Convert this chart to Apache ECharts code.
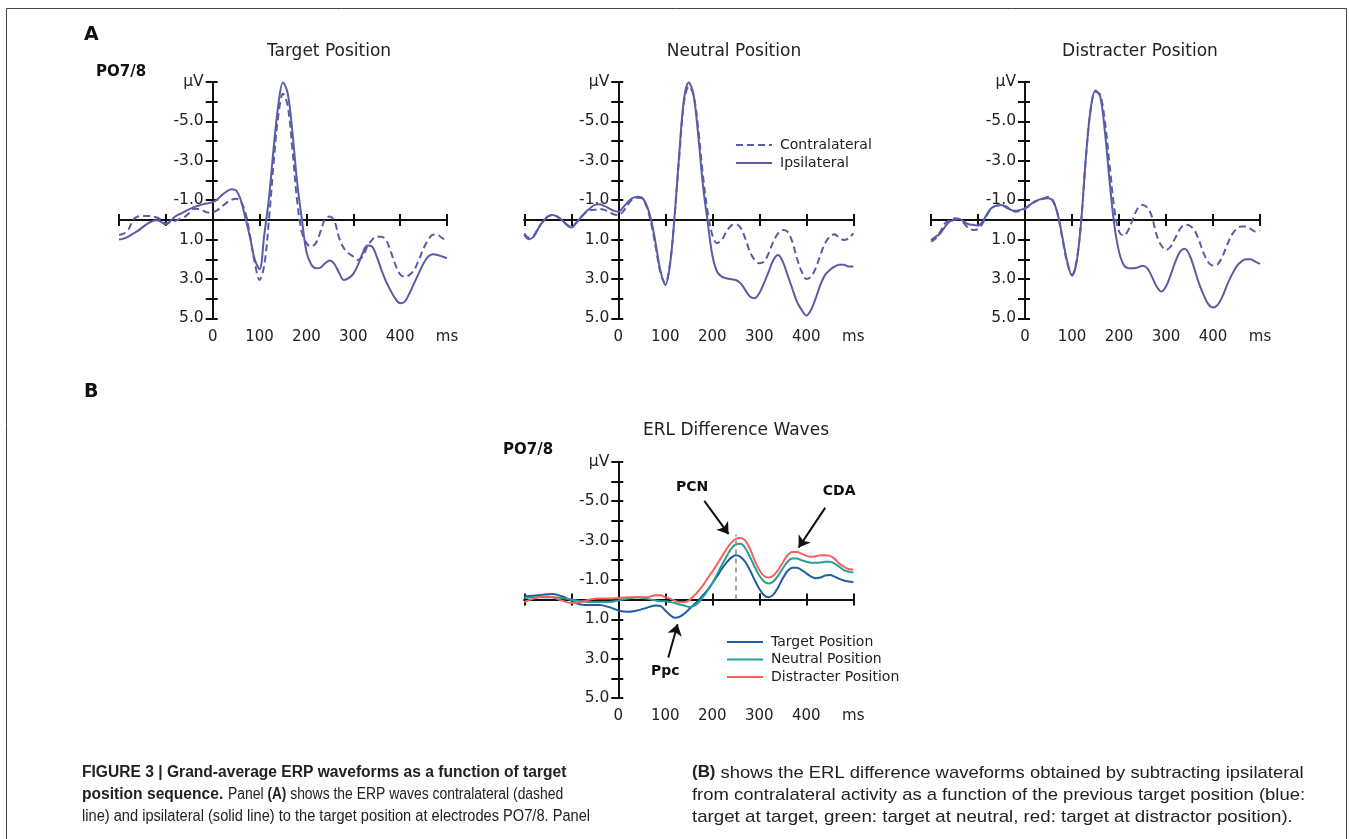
<!DOCTYPE html>
<html>
<head>
<meta charset="utf-8">
<script src="https://cdn.jsdelivr.net/npm/echarts@6/dist/echarts.min.js"></script>
<style>
html,body{margin:0;padding:0;background:#fff;}
#c{width:1349px;height:839px;}
</style>
</head>
<body>
<div id="c"></div>
<script>
// ---------- DATA ----------
const timeA = [
  -200,-190,-180,-170,-160,-150,-140,-130,-120,-110,
  -100,-90,-80,-70,-60,-50,-40,-30,-20,-10,
  0,10,20,30,40,50,60,70,80,90,
  100,110,120,130,140,150,160,170,180,190,
  200,210,220,230,240,250,260,270,280,290,
  300,310,320,330,340,350,360,370,380,390,
  400,410,420,430,440,450,460,470,480,490,
  500
];
const targetIpsi = [
  1.0,0.95,0.85,0.7,0.56,0.38,0.2,0.08,0.02,0.1,
  0.25,0.05,-0.17,-0.3,-0.42,-0.55,-0.64,-0.73,-0.8,-0.85,
  -0.9,-1.05,-1.27,-1.45,-1.56,-1.5,-1.0,-0.08,0.93,2.03,
  2.5,0.76,-1.1,-3.64,-5.84,-6.98,-6.43,-4.48,-1.95,-0.08,
  1.61,2.25,2.45,2.42,2.2,2.06,2.25,2.7,3.05,2.96,
  2.74,2.28,1.69,1.3,1.35,1.86,2.54,3.13,3.6,4.0,
  4.23,4.15,3.72,3.21,2.7,2.2,1.86,1.74,1.78,1.86,
  1.95
];
const targetContra = [
  0.76,0.7,0.5,0.0,-0.17,-0.2,-0.2,-0.18,-0.12,0.0,
  0.17,0.12,0.05,-0.05,-0.15,-0.35,-0.56,-0.55,-0.46,-0.38,
  -0.39,-0.5,-0.68,-0.88,-1.02,-1.07,-0.93,-0.35,0.85,2.2,
  3.05,2.3,0.0,-2.9,-5.3,-6.4,-5.8,-3.6,-1.0,0.6,
  1.18,1.35,1.18,0.6,-0.05,-0.17,0.08,0.93,1.44,1.69,
  1.86,2.03,1.86,1.35,1.02,0.85,0.85,1.02,1.61,2.28,
  2.76,2.88,2.79,2.54,2.03,1.44,1.02,0.76,0.76,0.93,
  1.02
];
const neutralIpsi = [
  0.76,0.98,0.85,0.42,0.08,-0.17,-0.25,-0.17,0.0,0.25,
  0.39,0.17,-0.12,-0.39,-0.59,-0.76,-0.8,-0.71,-0.59,-0.47,
  -0.42,-0.63,-0.9,-1.1,-1.17,-1.13,-0.76,0.0,1.27,2.62,
  3.3,2.28,-0.25,-3.47,-6.18,-6.98,-6.35,-4.31,-1.78,0.08,
  1.78,2.62,2.88,2.96,3.01,3.05,3.21,3.55,3.89,3.98,
  3.72,3.21,2.62,2.03,1.78,2.12,2.79,3.47,4.15,4.57,
  4.85,4.57,3.98,3.3,2.79,2.54,2.37,2.28,2.28,2.37,
  2.37
];
const neutralContra = [
  0.68,0.9,0.8,0.4,0.08,-0.17,-0.25,-0.17,0.0,0.22,
  0.35,0.15,-0.12,-0.35,-0.5,-0.51,-0.56,-0.51,-0.42,-0.29,
  -0.25,-0.42,-0.76,-1.05,-1.13,-1.1,-0.68,0.17,1.44,2.71,
  3.2,2.2,-0.25,-3.3,-6.0,-6.77,-6.35,-4.65,-2.28,-0.42,
  0.76,1.18,1.02,0.6,0.29,0.22,0.39,0.93,1.61,2.03,
  2.2,2.12,1.69,1.1,0.68,0.51,0.6,1.1,1.95,2.62,
  3.0,2.88,2.45,1.78,1.18,0.85,0.73,0.9,1.02,0.93,
  0.68
];
const distracterIpsi = [
  1.02,0.85,0.68,0.34,0.08,0.0,-0.05,0.08,0.22,0.25,
  0.29,0.08,-0.34,-0.63,-0.73,-0.76,-0.68,-0.51,-0.46,-0.51,
  -0.59,-0.76,-0.93,-1.03,-1.07,-1.1,-0.93,-0.25,0.93,2.12,
  2.83,2.12,-0.08,-3.3,-5.67,-6.57,-6.26,-4.48,-1.95,0.25,
  1.61,2.28,2.45,2.45,2.42,2.33,2.45,2.88,3.38,3.64,
  3.38,2.79,2.12,1.61,1.47,1.78,2.45,3.21,3.81,4.28,
  4.45,4.31,3.89,3.3,2.79,2.37,2.12,2.0,2.0,2.12,
  2.23
];
const distracterContra = [
  1.1,0.93,0.59,0.17,0.0,-0.08,-0.05,0.17,0.42,0.51,
  0.46,0.17,-0.29,-0.59,-0.73,-0.73,-0.63,-0.51,-0.42,-0.46,
  -0.56,-0.73,-0.9,-1.02,-1.1,-1.18,-0.96,-0.25,1.02,2.2,
  2.79,2.03,-0.08,-3.3,-5.67,-6.51,-6.35,-4.99,-2.79,-0.59,
  0.59,0.8,0.51,-0.08,-0.59,-0.76,-0.63,-0.17,0.76,1.3,
  1.52,1.35,0.9,0.46,0.25,0.29,0.51,1.02,1.69,2.15,
  2.32,2.25,1.86,1.27,0.76,0.46,0.34,0.34,0.46,0.59,
  0.56
];
const timeB = [
  -200,-180,-160,-140,-120,-100,-80,-60,-40,-20,0,20,40,60,
  80,90,100,110,120,130,140,150,160,170,180,190,
  200,210,220,230,240,250,260,270,280,290,
  300,310,320,330,340,350,360,370,380,390,
  400,410,420,430,440,450,460,470,480,490,500
];
const erlTarget = [
  -0.17,-0.2,-0.25,-0.28,-0.17,0.05,0.25,0.28,0.28,0.38,0.55,0.62,0.55,0.42,
  0.3,0.33,0.55,0.78,0.92,0.88,0.72,0.5,0.28,0.05,-0.22,-0.5,
  -0.83,-1.17,-1.55,-1.88,-2.12,-2.25,-2.17,-1.92,-1.5,-1.0,
  -0.55,-0.22,-0.12,-0.25,-0.62,-1.08,-1.45,-1.62,-1.62,-1.5,
  -1.33,-1.17,-1.08,-1.12,-1.22,-1.25,-1.17,-1.05,-0.97,-0.92,-0.88
];
const erlNeutral = [
  -0.08,-0.12,-0.12,-0.12,-0.08,0.0,0.08,0.12,0.12,0.12,0.05,-0.05,-0.12,-0.05,
  0.05,0.08,0.08,0.12,0.17,0.25,0.3,0.37,0.33,0.17,-0.12,-0.45,
  -0.83,-1.28,-1.75,-2.17,-2.58,-2.8,-2.83,-2.62,-2.17,-1.67,
  -1.22,-0.92,-0.82,-0.92,-1.22,-1.58,-1.92,-2.08,-2.08,-2.0,
  -1.92,-1.87,-1.87,-1.88,-1.92,-1.92,-1.83,-1.67,-1.5,-1.42,-1.38
];
const erlDistracter = [
  0.12,-0.05,-0.17,-0.12,0.05,0.17,0.12,0.0,-0.05,-0.05,-0.08,-0.12,-0.12,-0.12,
  -0.22,-0.22,-0.12,-0.05,0.05,0.12,0.12,0.05,-0.17,-0.42,-0.72,-1.08,
  -1.42,-1.78,-2.17,-2.55,-2.88,-3.08,-3.13,-3.0,-2.58,-2.0,
  -1.5,-1.2,-1.12,-1.22,-1.5,-1.88,-2.25,-2.42,-2.42,-2.33,
  -2.22,-2.17,-2.2,-2.25,-2.25,-2.22,-2.08,-1.83,-1.67,-1.55,-1.52
];
// annotation anchors in data units [ms, µV]
const pcnArrow = [[183, -5.01], [234.7, -3.32]];
const cdaArrow = [[440.4, -4.67], [383.6, -2.64]];
const ppcArrow = [[106.4, 2.94], [126.2, 1.25]];
const pcnLatency = [[250, 0], [250, -3.3]];
const annotationLabels = [
  { name: 'PCN', coord: [157, -5.69] },
  { name: 'CDA', coord: [470, -5.47] },
  { name: 'Ppc', coord: [100, 3.66] }
];
const panelTitles = ['Target Position', 'Neutral Position', 'Distracter Position', 'ERL Difference Waves'];
const yTickLabels = { '-7': 'µV', '-5': '-5.0', '-3': '-3.0', '-1': '-1.0', '1': '1.0', '3': '3.0', '5': '5.0' };
const xTickLabels = { '0': '0', '100': '100', '200': '200', '300': '300', '400': '400', '500': 'ms' };

// ---------- STYLE ----------
const FONT = 'DejaVu Sans';
const AXC = '#111';
const PURPLE = '#5b5ca6';
const C_T = '#1f5ca6', C_N = '#22a096', C_D = '#f5625c';

const grids = [
  { left: 119, top: 82, width: 328, height: 236.4 },
  { left: 524.3, top: 82, width: 329, height: 236.4 },
  { left: 931, top: 82, width: 329, height: 236.4 },
  { left: 524.3, top: 461.7, width: 329, height: 236.4 }
];

const xAxes = [], yAxes = [];
grids.forEach((g, gi) => {
  const zeroOffset = -(g.width * 200 / 700);
  const base = { gridIndex: gi, type: 'value', min: -200, max: 500, interval: 100, splitLine: { show: false } };
  xAxes.push(Object.assign({}, base, {
    position: 'bottom',
    axisLine: { onZero: true, lineStyle: { color: AXC, width: 2 } },
    axisTick: { show: true, length: 6, lineStyle: { color: AXC, width: 2 } },
    axisLabel: { show: false }
  }));
  xAxes.push(Object.assign({}, base, {
    position: 'top',
    axisLine: { onZero: true, lineStyle: { color: AXC, width: 2 } },
    axisTick: { show: true, length: 6, lineStyle: { color: AXC, width: 2 } },
    axisLabel: { show: false }
  }));
  xAxes.push(Object.assign({}, base, {
    position: 'bottom',
    axisLine: { show: false, onZero: false },
    axisTick: { show: false },
    axisLabel: {
      show: true, margin: 11, fontSize: 15, fontFamily: FONT, color: '#222',
      formatter: v => (xTickLabels[String(v)] !== undefined ? xTickLabels[String(v)] : '')
    }
  }));
  const ybase = { gridIndex: gi, type: 'value', inverse: true, min: -7, max: 5, interval: 1, splitLine: { show: false } };
  yAxes.push(Object.assign({}, ybase, {
    position: 'left',
    axisLine: { onZero: true, lineStyle: { color: AXC, width: 2 } },
    axisTick: { show: true, length: 7, lineStyle: { color: AXC, width: 2 } },
    axisLabel: { show: false }
  }));
  yAxes.push(Object.assign({}, ybase, {
    position: 'right',
    axisLine: { onZero: true, lineStyle: { color: AXC, width: 2 } },
    axisTick: { show: true, length: 5, lineStyle: { color: AXC, width: 2 } },
    axisLabel: { show: false }
  }));
  // label-only axis sitting on the zero of time
  yAxes.push(Object.assign({}, ybase, {
    position: 'left',
    offset: zeroOffset,
    axisLine: { show: false, onZero: false },
    axisTick: { show: false },
    axisLabel: {
      show: true, margin: 9, fontSize: 15.5, fontFamily: FONT, color: '#222',
      formatter: v => (yTickLabels[String(v)] !== undefined ? yTickLabels[String(v)] : '')
    }
  }));
});

function pairs(t, v) { return t.map((x, i) => [x, v[i]]); }

const series = [];
const aPanels = [[targetContra, targetIpsi], [neutralContra, neutralIpsi], [distracterContra, distracterIpsi]];
aPanels.forEach((p, gi) => {
  series.push({
    name: 'Contralateral', type: 'line', xAxisIndex: gi * 3, yAxisIndex: gi * 3,
    data: pairs(timeA, p[0]), smooth: 0.35, symbol: 'none', color: PURPLE,
    lineStyle: { color: PURPLE, width: 2, type: [7, 4] }, z: 3
  });
  series.push({
    name: 'Ipsilateral', type: 'line', xAxisIndex: gi * 3, yAxisIndex: gi * 3,
    data: pairs(timeA, p[1]), smooth: 0.35, symbol: 'none', color: PURPLE,
    lineStyle: { color: PURPLE, width: 2 }, z: 3
  });
});

const bList = [['Target Position', erlTarget, C_T], ['Neutral Position', erlNeutral, C_N], ['Distracter Position', erlDistracter, C_D]];
bList.forEach((b, i) => {
  const s = {
    name: b[0], type: 'line', xAxisIndex: 9, yAxisIndex: 9,
    data: pairs(timeB, b[1]), smooth: 0.35, symbol: 'none', color: b[2],
    lineStyle: { color: b[2], width: 2 }, z: 3 + i
  };
  if (i === 0) {
    s.markLine = {
      silent: true, animation: false, symbol: ['none', 'arrow'], symbolSize: 11,
      label: { show: false },
      lineStyle: { type: 'solid', color: '#111', width: 2 },
      data: [
        [{ coord: pcnLatency[0], symbol: 'none', lineStyle: { color: '#888', type: [5, 4], width: 1.5 } },
         { coord: pcnLatency[1], symbol: 'none', lineStyle: { color: '#888', type: [5, 4], width: 1.5 } }],
        [{ coord: pcnArrow[0] }, { coord: pcnArrow[1] }],
        [{ coord: cdaArrow[0] }, { coord: cdaArrow[1] }],
        [{ coord: ppcArrow[0] }, { coord: ppcArrow[1] }]
      ]
    };
    s.markPoint = {
      silent: true, animation: false, symbol: 'circle', symbolSize: 1,
      itemStyle: { color: 'rgba(0,0,0,0)' },
      label: { show: true, position: 'inside', fontFamily: FONT, fontWeight: 'bold', fontSize: 14, color: '#111', formatter: p => p.name },
      data: annotationLabels
    };
  }
  series.push(s);
});

const legendText = { fontSize: 14, fontFamily: FONT, color: '#222', padding: [0, 0, 0, 3] };
const legendItemStyle = { opacity: 0, color: 'rgba(0,0,0,0)', borderColor: 'rgba(0,0,0,0)', borderWidth: 0 };

const titleTexts = [
  [panelTitles[0], 329, 52], [panelTitles[1], 734, 52], [panelTitles[2], 1140, 52], [panelTitles[3], 736, 431]
].map(t => ({ type: 'text', x: t[1], y: t[2], style: { text: t[0], fontFamily: FONT, fontSize: 17, fill: '#222', align: 'center', verticalAlign: 'middle' } }));

const capFont = 'Liberation Sans';
const capRich = { b: { fontWeight: 'bold', fontFamily: capFont, fontSize: 15.6, fill: '#222' } };
function cap(x, y, text, size, sx) {
  return { type: 'text', x: x, y: y, scaleX: sx || 1, originX: 0, originY: 0,
    style: { text: text, rich: capRich, fontFamily: capFont, fontSize: size, fill: '#222', verticalAlign: 'middle' } };
}

const option = {
  animation: false,
  backgroundColor: '#fff',
  grid: grids,
  xAxis: xAxes,
  yAxis: yAxes,
  legend: [
    { data: ['Contralateral', 'Ipsilateral'], orient: 'vertical', left: 730, top: 133, itemWidth: 36, itemHeight: 14, itemGap: 4, textStyle: legendText, itemStyle: legendItemStyle, selectedMode: false },
    { data: ['Target Position', 'Neutral Position', 'Distracter Position'], orient: 'vertical', left: 721, top: 630, itemWidth: 36, itemHeight: 14, itemGap: 3.5, textStyle: legendText, itemStyle: legendItemStyle, selectedMode: false }
  ],
  series: series,
  graphic: [
    { type: 'rect', shape: { x: 6.5, y: 8.5, width: 1340, height: 850 }, style: { fill: 'none', stroke: '#444', lineWidth: 1 }, silent: true },
    { type: 'text', x: 84, y: 35, style: { text: 'A', fontFamily: FONT, fontWeight: 'bold', fontSize: 19, fill: '#111', verticalAlign: 'middle' } },
    { type: 'text', x: 84, y: 392, style: { text: 'B', fontFamily: FONT, fontWeight: 'bold', fontSize: 19, fill: '#111', verticalAlign: 'middle' } },
    { type: 'text', x: 96, y: 72, style: { text: 'PO7/8', fontFamily: FONT, fontWeight: 'bold', fontSize: 15, fill: '#111', verticalAlign: 'middle' } },
    { type: 'text', x: 503, y: 450, style: { text: 'PO7/8', fontFamily: FONT, fontWeight: 'bold', fontSize: 15, fill: '#111', verticalAlign: 'middle' } }
  ].concat(titleTexts).concat([
    cap(82, 773, '{b|FIGURE 3 | Grand-average ERP waveforms as a function of target}', 16),
    cap(82, 795, '{b|position sequence.}', 16),
    cap(228, 795, 'Panel {b|(A)} shows the ERP waves contralateral (dashed', 16, 0.87),
    cap(82, 817, 'line) and ipsilateral (solid line) to the target position at electrodes PO7/8. Panel', 16, 0.914),
    cap(692, 773, '{b|(B)} shows the ERL difference waveforms obtained by subtracting ipsilateral', 17, 1.085),
    cap(692, 795, 'from contralateral activity as a function of the previous target position (blue:', 17, 1.085),
    cap(692, 817, 'target at target, green: target at neutral, red: target at distractor position).', 17, 1.1)
  ])
};

const chart = echarts.init(document.getElementById('c'), null, { renderer: 'canvas' });
chart.setOption(option);
</script>
</body>
</html>
